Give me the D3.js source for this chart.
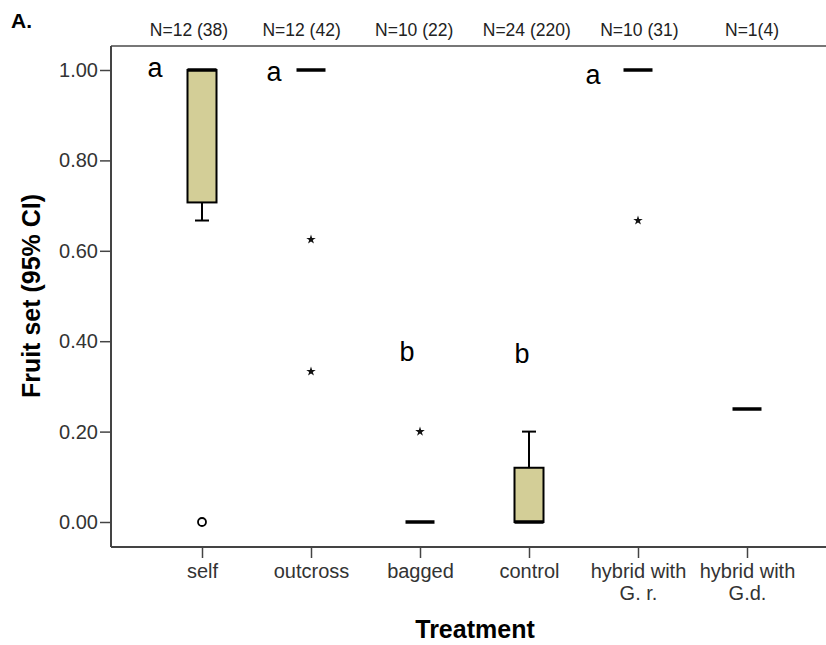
<!DOCTYPE html>
<html>
<head>
<meta charset="utf-8">
<script src="https://cdn.jsdelivr.net/npm/d3@7"></script>
<style>
  body { margin: 0; background: #fff; }
  text { font-family: "Liberation Sans", Arial, sans-serif; }
</style>
</head>
<body>
<script>
// Chart data
var categories = ["self", "outcross", "bagged", "control", "hybrid with\nG. r.", "hybrid with\nG.d."];
var nLabels = ["N=12 (38)", "N=12 (42)", "N=10 (22)", "N=24 (220)", "N=10 (31)", "N=1(4)"];
var boxLow = [0.707, 1.00, 0.00, 0.00, 1.00, 0.25];
var boxHigh = [1.00, 1.00, 0.00, 0.12, 1.00, 0.25];
var medians = [1.00, 1.00, 0.00, 0.00, 1.00, 0.25];
var whiskerLow = [0.667, 1.00, 0.00, 0.00, 1.00, 0.25];
var whiskerHigh = [1.00, 1.00, 0.00, 0.20, 1.00, 0.25];
var extremes = [[], [0.625, 0.333], [0.20], [], [0.667], []];
var outliers = [[0.00], [], [], [], [], []];
var groupLetters = ["a", "a", "b", "b", "a", ""];
var letterLevel = [0.985, 0.975, 0.357, 0.352, 0.97, 0];
var yTicks = [0, 0.2, 0.4, 0.6, 0.8, 1.0];

var svgWidth = 826;
var svgHeight = 645;

var margin = { top: 46, left: 111, bottom: 547, right: 839 };

var svg = d3.select("body")
  .append("svg")
  .attr("width", svgWidth)
  .attr("height", svgHeight);

var xScale = d3.scalePoint()
  .domain(categories)
  .range([margin.left + 91, margin.left + 636]);

// N labels above the frame are spaced a bit differently
var nScale = d3.scalePoint()
  .domain(categories)
  .range([189, 752]);

var yScale = d3.scaleLinear()
  .domain([0, 1])
  .range([522, 70]);

var boxWidth = 29;
var capWidth = 14;
var letterDx = [-47, -37, -13, -7, -45, 0];

// frame: top line
svg.append("line")
  .attr("x1", margin.left).attr("x2", svgWidth)
  .attr("y1", margin.top).attr("y2", margin.top)
  .attr("stroke", "#777").attr("stroke-width", 2);

// y axis
var yAxis = d3.axisLeft(yScale)
  .tickValues(yTicks)
  .tickFormat(d3.format(".2f"))
  .tickSize(11)
  .tickSizeOuter(0);

var yG = svg.append("g")
  .attr("transform", `translate(${margin.left}, 0)`)
  .call(yAxis);
yG.select(".domain").remove();
yG.append("line")
  .attr("x1", 0).attr("x2", 0)
  .attr("y1", margin.top).attr("y2", margin.bottom)
  .attr("stroke", "#444").attr("stroke-width", 2);
yG.selectAll(".tick line").attr("stroke", "#444").attr("stroke-width", 1.5);
yG.selectAll(".tick text")
  .attr("x", -13)
  .attr("font-size", 20)
  .attr("font-family", "Liberation Sans, Arial, sans-serif")
  .attr("fill", "#333");

// x axis
var xAxis = d3.axisBottom(xScale)
  .tickSize(11)
  .tickSizeOuter(0);

var xG = svg.append("g")
  .attr("transform", `translate(0, ${margin.bottom})`)
  .call(xAxis);
xG.select(".domain").remove();
xG.append("line")
  .attr("x1", margin.left).attr("x2", svgWidth)
  .attr("y1", 0).attr("y2", 0)
  .attr("stroke", "#444").attr("stroke-width", 2);
xG.selectAll(".tick line").attr("stroke", "#444").attr("stroke-width", 1.5);
xG.selectAll(".tick text").each(function(d) {
  var t = d3.select(this).text("")
    .attr("y", 31)
    .attr("dy", null)
    .attr("font-size", 20)
    .attr("font-family", "Liberation Sans, Arial, sans-serif")
    .attr("fill", "#333");
  d.split("\n").forEach(function(line, i) {
    t.append("tspan").attr("x", 0).attr("y", 31 + i * 22).text(line);
  });
});

// N labels
svg.selectAll(".nlabel")
  .data(categories)
  .enter()
  .append("text")
  .classed("nlabel", true)
  .attr("x", d => nScale(d))
  .attr("y", 36)
  .attr("text-anchor", "middle")
  .attr("font-size", 17.5)
  .attr("fill", "#222")
  .text((d, i) => nLabels[i]);

var groups = svg.selectAll(".grp")
  .data(categories)
  .enter()
  .append("g")
  .classed("grp", true);

// whiskers
groups.each(function(d, i) {
  var g = d3.select(this);
  var cx = xScale(d);
  [[boxLow[i], whiskerLow[i]], [boxHigh[i], whiskerHigh[i]]].forEach(function(pair) {
    if (pair[0] === pair[1]) return;
    g.append("line")
      .attr("x1", cx).attr("x2", cx)
      .attr("y1", yScale(pair[0])).attr("y2", yScale(pair[1]))
      .attr("stroke", "#000").attr("stroke-width", 2);
    g.append("line")
      .attr("x1", cx - capWidth / 2).attr("x2", cx + capWidth / 2)
      .attr("y1", yScale(pair[1])).attr("y2", yScale(pair[1]))
      .attr("stroke", "#000").attr("stroke-width", 2);
  });
});

// boxes
groups.filter((d, i) => boxHigh[i] > boxLow[i])
  .append("rect")
  .attr("x", d => xScale(d) - boxWidth / 2)
  .attr("y", (d, i) => yScale(boxHigh[categories.indexOf(d)]))
  .attr("width", boxWidth)
  .attr("height", d => yScale(boxLow[categories.indexOf(d)]) - yScale(boxHigh[categories.indexOf(d)]))
  .attr("fill", "#d3ce97")
  .attr("stroke", "#000")
  .attr("stroke-width", 2);

// medians
groups.append("line")
  .attr("x1", d => xScale(d) - boxWidth / 2)
  .attr("x2", d => xScale(d) + boxWidth / 2)
  .attr("y1", (d, i) => yScale(medians[i]))
  .attr("y2", (d, i) => yScale(medians[i]))
  .attr("stroke", "#000")
  .attr("stroke-width", 3.5);

// extremes (stars)
var star = d3.symbol().type(d3.symbolStar).size(28);
groups.each(function(d, i) {
  d3.select(this).selectAll(".ext")
    .data(extremes[i])
    .enter()
    .append("path")
    .classed("ext", true)
    .attr("d", star)
    .attr("transform", v => `translate(${xScale(d)}, ${yScale(v)})`)
    .attr("fill", "#111");
  d3.select(this).selectAll(".out")
    .data(outliers[i])
    .enter()
    .append("circle")
    .classed("out", true)
    .attr("cx", xScale(d))
    .attr("cy", v => yScale(v))
    .attr("r", 4)
    .attr("fill", "none")
    .attr("stroke", "#000")
    .attr("stroke-width", 1.8);
});

// group letters
svg.selectAll(".letter")
  .data(categories)
  .enter()
  .append("text")
  .classed("letter", true)
  .attr("x", (d, i) => xScale(d) + letterDx[i])
  .attr("y", (d, i) => yScale(letterLevel[i]))
  .attr("text-anchor", "middle")
  .attr("font-size", 27)
  .attr("fill", "#000")
  .text((d, i) => groupLetters[i]);

// panel label
svg.append("text")
  .attr("x", 11)
  .attr("y", 28)
  .attr("font-size", 21)
  .attr("font-weight", "bold")
  .text("A.");

// axis titles
svg.append("text")
  .attr("transform", "translate(40, 296) rotate(-90)")
  .attr("text-anchor", "middle")
  .attr("font-size", 25)
  .attr("font-weight", "bold")
  .text("Fruit set (95% CI)");

svg.append("text")
  .attr("x", (margin.left + margin.right) / 2)
  .attr("y", 638)
  .attr("text-anchor", "middle")
  .attr("font-size", 25)
  .attr("font-weight", "bold")
  .text("Treatment");
</script>
</body>
</html>
